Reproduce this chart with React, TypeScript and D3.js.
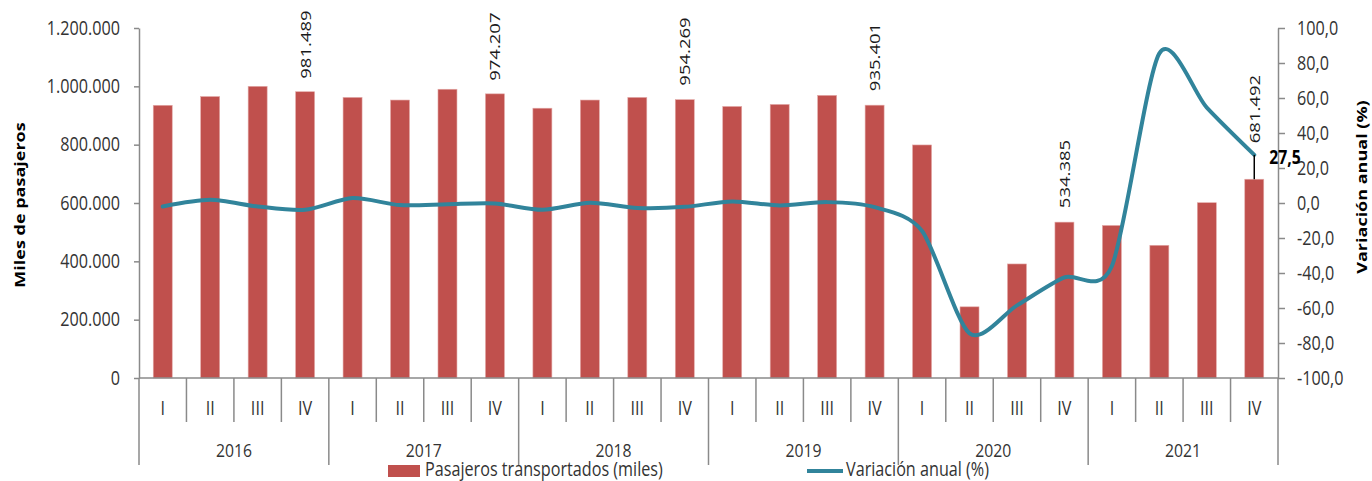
import React, { useEffect, useRef } from 'react';
import * as d3 from 'd3';

const years = ['2016', '2017', '2018', '2019', '2020', '2021'];
const quarters = ['I', 'II', 'III', 'IV'];

// Pasajeros transportados (miles), one per quarter
const pasajeros = [
  935000, 965000, 1000000, 981489,
  962000, 953000, 990000, 974207,
  925000, 953000, 962000, 954269,
  931000, 938000, 969000, 935401,
  799000, 244000, 391000, 534385,
  523000, 455000, 601000, 681492,
];

// Variación anual (%)
const variacion = [
  -2.0, 1.8, -2.0, -3.9,
  2.8, -1.2, -0.7, -0.3,
  -3.9, 0.1, -2.8, -2.2,
  0.9, -1.4, 0.5, -2.4,
  -16.0, -74.5, -58.5, -42.5,
  -36.0, 85.5, 54.5, 27.5,
];

const leftTicks = [0, 200000, 400000, 600000, 800000, 1000000, 1200000];
const rightTicks = [-100, -80, -60, -40, -20, 0, 20, 40, 60, 80, 100];

// bars that carry a value label, and the gap between bar top and label
const labelledBars = [3, 7, 11, 15, 19, 23];
const labelGaps = [13, 13, 14, 14, 14, 36];

const lastPoint = 23;

const W = 1372;
const H = 481;
const margin = { top: 28, right: 94, bottom: 103, left: 139 };

const BAR = '#C0504D';
const LINE = '#31849B';
const AXIS = '#8a8a8a';
const TEXT = '#333333';
const FONT = "'Open Sans', 'Noto Sans', sans-serif";
const SX = 0.83; // glyphs in the reference are horizontally narrow

const locale = d3.formatLocale({
  decimal: ',',
  thousands: '.',
  grouping: [3],
  currency: ['', ''],
  minus: '-',
});
const fmtInt = locale.format(',d');
const fmtPct = locale.format('.1f');

const App: React.FC = () => {
  const svgRef = useRef<SVGSVGElement>(null);

  useEffect(() => {
    document.body.style.margin = '0';
    if (!svgRef.current) return;
    const svg = d3.select(svgRef.current);
    svg.selectAll('*').remove();

    const x0 = margin.left;
    const x1 = W - margin.right;
    const y0 = H - margin.bottom;
    const yTop = margin.top;

    const keys = years.flatMap(y => quarters.map(q => `${y}-${q}`));

    const x = d3.scaleBand<string>()
      .domain(keys)
      .range([x0, x1])
      .paddingInner(0.6)
      .paddingOuter(0.3);

    const yL = d3.scaleLinear().domain([0, 1200000]).range([y0, yTop]);
    const yR = d3.scaleLinear().domain([-100, 100]).range([y0, yTop]);

    const cx = (i: number) => (x(keys[i]) as number) + x.bandwidth() / 2;
    const step = x.step();

    // Bars
    svg.append('g')
      .selectAll('rect')
      .data(pasajeros)
      .enter()
      .append('rect')
      .attr('x', (d, i) => x(keys[i]) as number)
      .attr('y', d => yL(d))
      .attr('width', x.bandwidth())
      .attr('height', d => y0 - yL(d))
      .attr('fill', BAR)
      .attr('stroke', '#e3a9a7')
      .attr('stroke-width', 0.6);

    // Left axis
    const leftAxis = svg.append('g')
      .attr('transform', `translate(${x0},0)`)
      .call(d3.axisLeft(yL)
        .tickValues(leftTicks)
        .tickSize(5)
        .tickSizeOuter(0)
        .tickPadding(18)
        .tickFormat(d => fmtInt(d as number)));
    leftAxis.select('.domain').attr('stroke', AXIS).attr('stroke-width', 1.5);
    leftAxis.selectAll('.tick line').attr('stroke', AXIS).attr('stroke-width', 1.5);
    leftAxis.selectAll('.tick text')
      .attr('fill', TEXT)
      .style('font-family', FONT)
      .style('font-size', '19.5px')
      .attr('transform', `scale(${SX},1)`);

    // Right axis
    const rightAxis = svg.append('g')
      .attr('transform', `translate(${x1},0)`)
      .call(d3.axisRight(yR)
        .tickValues(rightTicks)
        .tickSize(7)
        .tickSizeOuter(0)
        .tickPadding(16)
        .tickFormat(d => fmtPct(d as number)));
    rightAxis.select('.domain').attr('stroke', AXIS).attr('stroke-width', 1.5);
    rightAxis.selectAll('.tick line').attr('stroke', AXIS).attr('stroke-width', 1.5);
    rightAxis.selectAll('.tick text')
      .attr('fill', TEXT)
      .style('font-family', FONT)
      .style('font-size', '19.5px')
      .attr('transform', `scale(${SX},1)`);

    // Category axis (quarters and years)
    const xa = svg.append('g');
    xa.append('line')
      .attr('x1', x0).attr('x2', x1)
      .attr('y1', y0).attr('y2', y0)
      .attr('stroke', AXIS).attr('stroke-width', 1.5);

    d3.range(keys.length + 1).forEach(i => {
      const bx = x0 + step * i;
      xa.append('line')
        .attr('x1', bx).attr('x2', bx)
        .attr('y1', y0)
        .attr('y2', i % quarters.length === 0 ? y0 + 87 : y0 + 44)
        .attr('stroke', AXIS)
        .attr('stroke-width', 1.5);
    });

    keys.forEach((k, i) => {
      xa.append('text')
        .attr('transform', `translate(${cx(i)},${y0 + 37}) scale(${SX},1)`)
        .attr('text-anchor', 'middle')
        .attr('fill', TEXT)
        .style('font-family', FONT)
        .style('font-size', '19.5px')
        .text(quarters[i % quarters.length]);
    });

    years.forEach((yr, j) => {
      const mid = x0 + step * (j * quarters.length + quarters.length / 2);
      xa.append('text')
        .attr('transform', `translate(${mid},${y0 + 79}) scale(${SX},1)`)
        .attr('text-anchor', 'middle')
        .attr('fill', TEXT)
        .style('font-family', FONT)
        .style('font-size', '19px')
        .text(yr);
    });

    // Line (smoothed)
    const line = d3.line<number>()
      .x((d, i) => cx(i))
      .y(d => yR(d))
      .curve(d3.curveCardinal.tension(0.2));

    svg.append('path')
      .datum(variacion)
      .attr('fill', 'none')
      .attr('stroke', LINE)
      .attr('stroke-width', 4)
      .attr('stroke-linecap', 'round')
      .attr('stroke-linejoin', 'round')
      .attr('d', line);

    // Leader line from last point to bar top
    svg.append('line')
      .attr('x1', cx(lastPoint)).attr('x2', cx(lastPoint))
      .attr('y1', yR(variacion[lastPoint]))
      .attr('y2', yL(pasajeros[lastPoint]))
      .attr('stroke', '#000')
      .attr('stroke-width', 1.5);

    svg.append('text')
      .attr('transform', `translate(${cx(lastPoint) + 15},${yR(variacion[lastPoint]) + 9}) scale(${SX},1)`)
      .attr('fill', '#000')
      .style('font-family', FONT)
      .style('font-size', '19px')
      .style('font-weight', 'bold')
      .text(fmtPct(variacion[lastPoint]));

    // Bar value labels (rotated)
    labelledBars.forEach((b, j) => {
      svg.append('text')
        .attr('transform', `translate(${cx(b)},${yL(pasajeros[b]) - labelGaps[j]}) scale(${SX},1) rotate(-90)`)
        .attr('dy', '0.36em')
        .attr('text-anchor', 'start')
        .attr('fill', '#1a1a1a')
        .style('font-family', FONT)
        .style('font-size', '18.5px')
        .text(fmtInt(pasajeros[b]));
    });

    // Axis titles
    svg.append('text')
      .attr('transform', `translate(20,205) scale(${SX},1) rotate(-90)`)
      .attr('dy', '0.36em')
      .attr('text-anchor', 'middle')
      .attr('fill', '#000')
      .style('font-family', FONT)
      .style('font-size', '18px')
      .style('font-weight', 'bold')
      .text('Miles de pasajeros');

    svg.append('text')
      .attr('transform', `translate(1362,187) scale(${SX},1) rotate(-90)`)
      .attr('dy', '0.36em')
      .attr('text-anchor', 'middle')
      .attr('fill', '#000')
      .style('font-family', FONT)
      .style('font-size', '18px')
      .style('font-weight', 'bold')
      .text('Variación anual (%)');

    // Legend
    const lg = svg.append('g');
    lg.append('rect')
      .attr('x', 388).attr('y', 465)
      .attr('width', 32).attr('height', 12)
      .attr('fill', BAR);
    lg.append('text')
      .attr('transform', `translate(425,476) scale(${SX},1)`)
      .attr('fill', TEXT)
      .style('font-family', FONT)
      .style('font-size', '19.5px')
      .text('Pasajeros transportados (miles)');
    lg.append('line')
      .attr('x1', 807).attr('x2', 843)
      .attr('y1', 471).attr('y2', 471)
      .attr('stroke', LINE)
      .attr('stroke-width', 4);
    lg.append('text')
      .attr('transform', `translate(846,476) scale(${SX},1)`)
      .attr('fill', TEXT)
      .style('font-family', FONT)
      .style('font-size', '19.5px')
      .text('Variación anual (%)');
  }, []);

  return (
    <svg
      ref={svgRef}
      width={W}
      height={H}
      style={{ display: 'block', background: '#fff' }}
    />
  );
};

export default App;
